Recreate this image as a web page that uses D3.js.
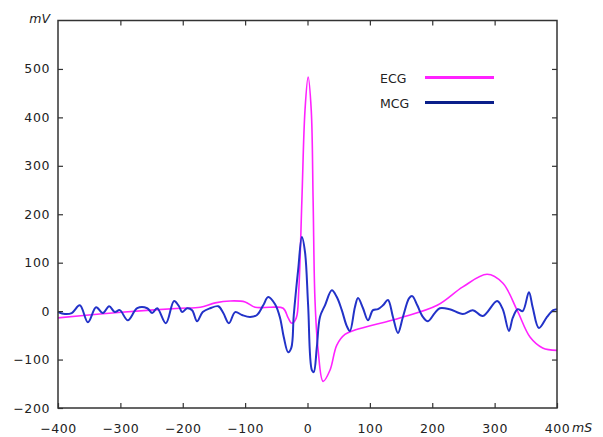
<!DOCTYPE html>
<html>
<head>
<meta charset="utf-8">
<script src="https://cdn.jsdelivr.net/npm/d3@7"></script>
<style>
  body { margin: 0; background: #fff; }
  text { font-family: "DejaVu Sans", sans-serif; fill: #222; }
</style>
</head>
<body>
<script>
// ECG trace (ms, mV)
var ecgTime = [-400, -333, -252, -204, -172, -148, -124, -100, -84, -60, -39, -31, -25, -18, -14, -9, -4, 1, 6, 9, 12, 17, 25, 36, 47, 60, 76, 148, 208, 249, 288, 313, 336, 357, 377, 400];
var ecgValue = [-14, -6, 2, 6, 8, 17, 21, 19, 8, 8, 6, -14, -25, -14, 43, 229, 415, 483, 415, 229, 23, -80, -145, -122, -70, -48, -39, -14, 12, 50, 76, 58, 2, -54, -76, -81];

// MCG trace (ms, mV)
var mcgTime = [-400, -389, -378, -365, -352, -339, -328, -318, -309, -301,
  -288, -273, -257, -249, -241, -227, -214, -206, -201, -193,
  -185, -177, -168, -156, -143, -135, -126, -116, -105, -92,
  -81, -71, -63, -52, -44, -38, -31, -26, -22, -15,
  -9, -4, 1, 7, 10, 15, 20, 28, 39, 47,
  55, 63, 68, 76, 81, 89, 97, 105, 113, 121,
  129, 137, 145, 153, 163, 168, 176, 185, 193, 204,
  212, 228, 249, 265, 281, 304, 313, 323, 329, 337,
  345, 355, 361, 371, 384, 394, 400];
var mcgValue = [-2, -6, -4, 12, -23, 8, -4, 10, -2, 2,
  -19, 6, 6, -4, 6, -25, 21, 10, -2, 6,
  2, -21, -2, 6, 10, -4, -25, -2, -8, -12,
  -8, 12, 29, 14, -14, -54, -85, -76, -8, 85,
  153, 122, 12, -122, -126, -74, -12, 12, 43, 29,
  2, -31, -41, 8, 27, 6, -19, 2, 4, 12,
  23, -12, -45, -12, 27, 31, 12, -12, -21, -4,
  6, 4, -6, 2, -10, 21, 4, -41, -14, 4,
  0, 39, 8, -35, -12, 2, 4];

var xTicks = [-400, -300, -200, -100, 0, 100, 200, 300, 400];
var yTicks = [-200, -100, 0, 100, 200, 300, 400, 500];
var seriesNames = ["ECG", "MCG"];

var svgWidth = 603, svgHeight = 437;
var margin = {top: 20.5, right: 46, bottom: 29, left: 58};
var width = svgWidth - margin.left - margin.right;
var height = svgHeight - margin.top - margin.bottom;

var svg = d3.select("body").append("svg")
  .attr("width", svgWidth)
  .attr("height", svgHeight);
var g = svg.append("g")
  .attr("transform", "translate(" + margin.left + "," + margin.top + ")");

var x = d3.scaleLinear().domain([-400, 400]).range([0, width]);
var y = d3.scaleLinear().domain([-200, 600]).range([height, 0]);

var ecg = ecgTime.map(function(t, i) { return [t, ecgValue[i]]; });
var mcg = mcgTime.map(function(t, i) { return [t, mcgValue[i]]; });

var line = d3.line()
  .x(function(d) { return x(d[0]); })
  .y(function(d) { return y(d[1]); })
  .curve(d3.curveCatmullRom.alpha(0.5));

g.append("path").datum(ecg)
  .attr("d", line)
  .attr("fill", "none")
  .attr("stroke", "#ff22ff")
  .attr("stroke-width", 1.6);
g.append("path").datum(mcg)
  .attr("d", line)
  .attr("fill", "none")
  .attr("stroke", "#2232c8")
  .attr("stroke-width", 2);

// axes, ticks pointing inward
function styleAxis(sel) {
  sel.select(".domain").remove();
  sel.selectAll(".tick line").attr("stroke", "#333").attr("stroke-width", 1.2);
  sel.selectAll("text").style("font-size", "12.5px").style("letter-spacing", "0.6px").style("fill", "#222");
}
g.append("g").attr("transform", "translate(0," + height + ")")
  .call(d3.axisBottom(x).tickValues(xTicks).tickSizeInner(-5).tickSizeOuter(0).tickPadding(16))
  .call(styleAxis);
g.append("g")
  .call(d3.axisTop(x).tickValues(xTicks.slice(1, -1)).tickSizeInner(-5).tickSizeOuter(0).tickFormat(""))
  .call(styleAxis);
g.append("g")
  .call(d3.axisLeft(y).tickValues(yTicks).tickSizeInner(-5).tickSizeOuter(0).tickPadding(8))
  .call(styleAxis);
g.append("g").attr("transform", "translate(" + width + ",0)")
  .call(d3.axisRight(y).tickValues(yTicks.slice(1)).tickSizeInner(-5).tickSizeOuter(0).tickFormat(""))
  .call(styleAxis);

g.append("rect")
  .attr("width", width).attr("height", height)
  .attr("fill", "none").attr("stroke", "#333").attr("stroke-width", 1.5);

// unit labels
g.append("text").attr("x", -8).attr("y", 2)
  .attr("text-anchor", "end")
  .style("font-size", "12.5px").style("font-style", "italic")
  .text("mV");
g.append("text").attr("x", width + 15).attr("y", height + 24)
  .style("font-size", "12.5px").style("font-style", "italic")
  .text("mS");

// legend
var legendColors = ["#ff22ff", "#0a1f8a"];
var legend = g.append("g").attr("transform", "translate(322,57)");
seriesNames.forEach(function(name, i) {
  var row = legend.append("g").attr("transform", "translate(0," + (i * 25) + ")");
  row.append("text").attr("x", 0).attr("y", 5)
    .style("font-size", "12.5px").text(name);
  row.append("line")
    .attr("x1", 45).attr("x2", 114)
    .attr("stroke", legendColors[i]).attr("stroke-width", 3);
});
</script>
</body>
</html>
